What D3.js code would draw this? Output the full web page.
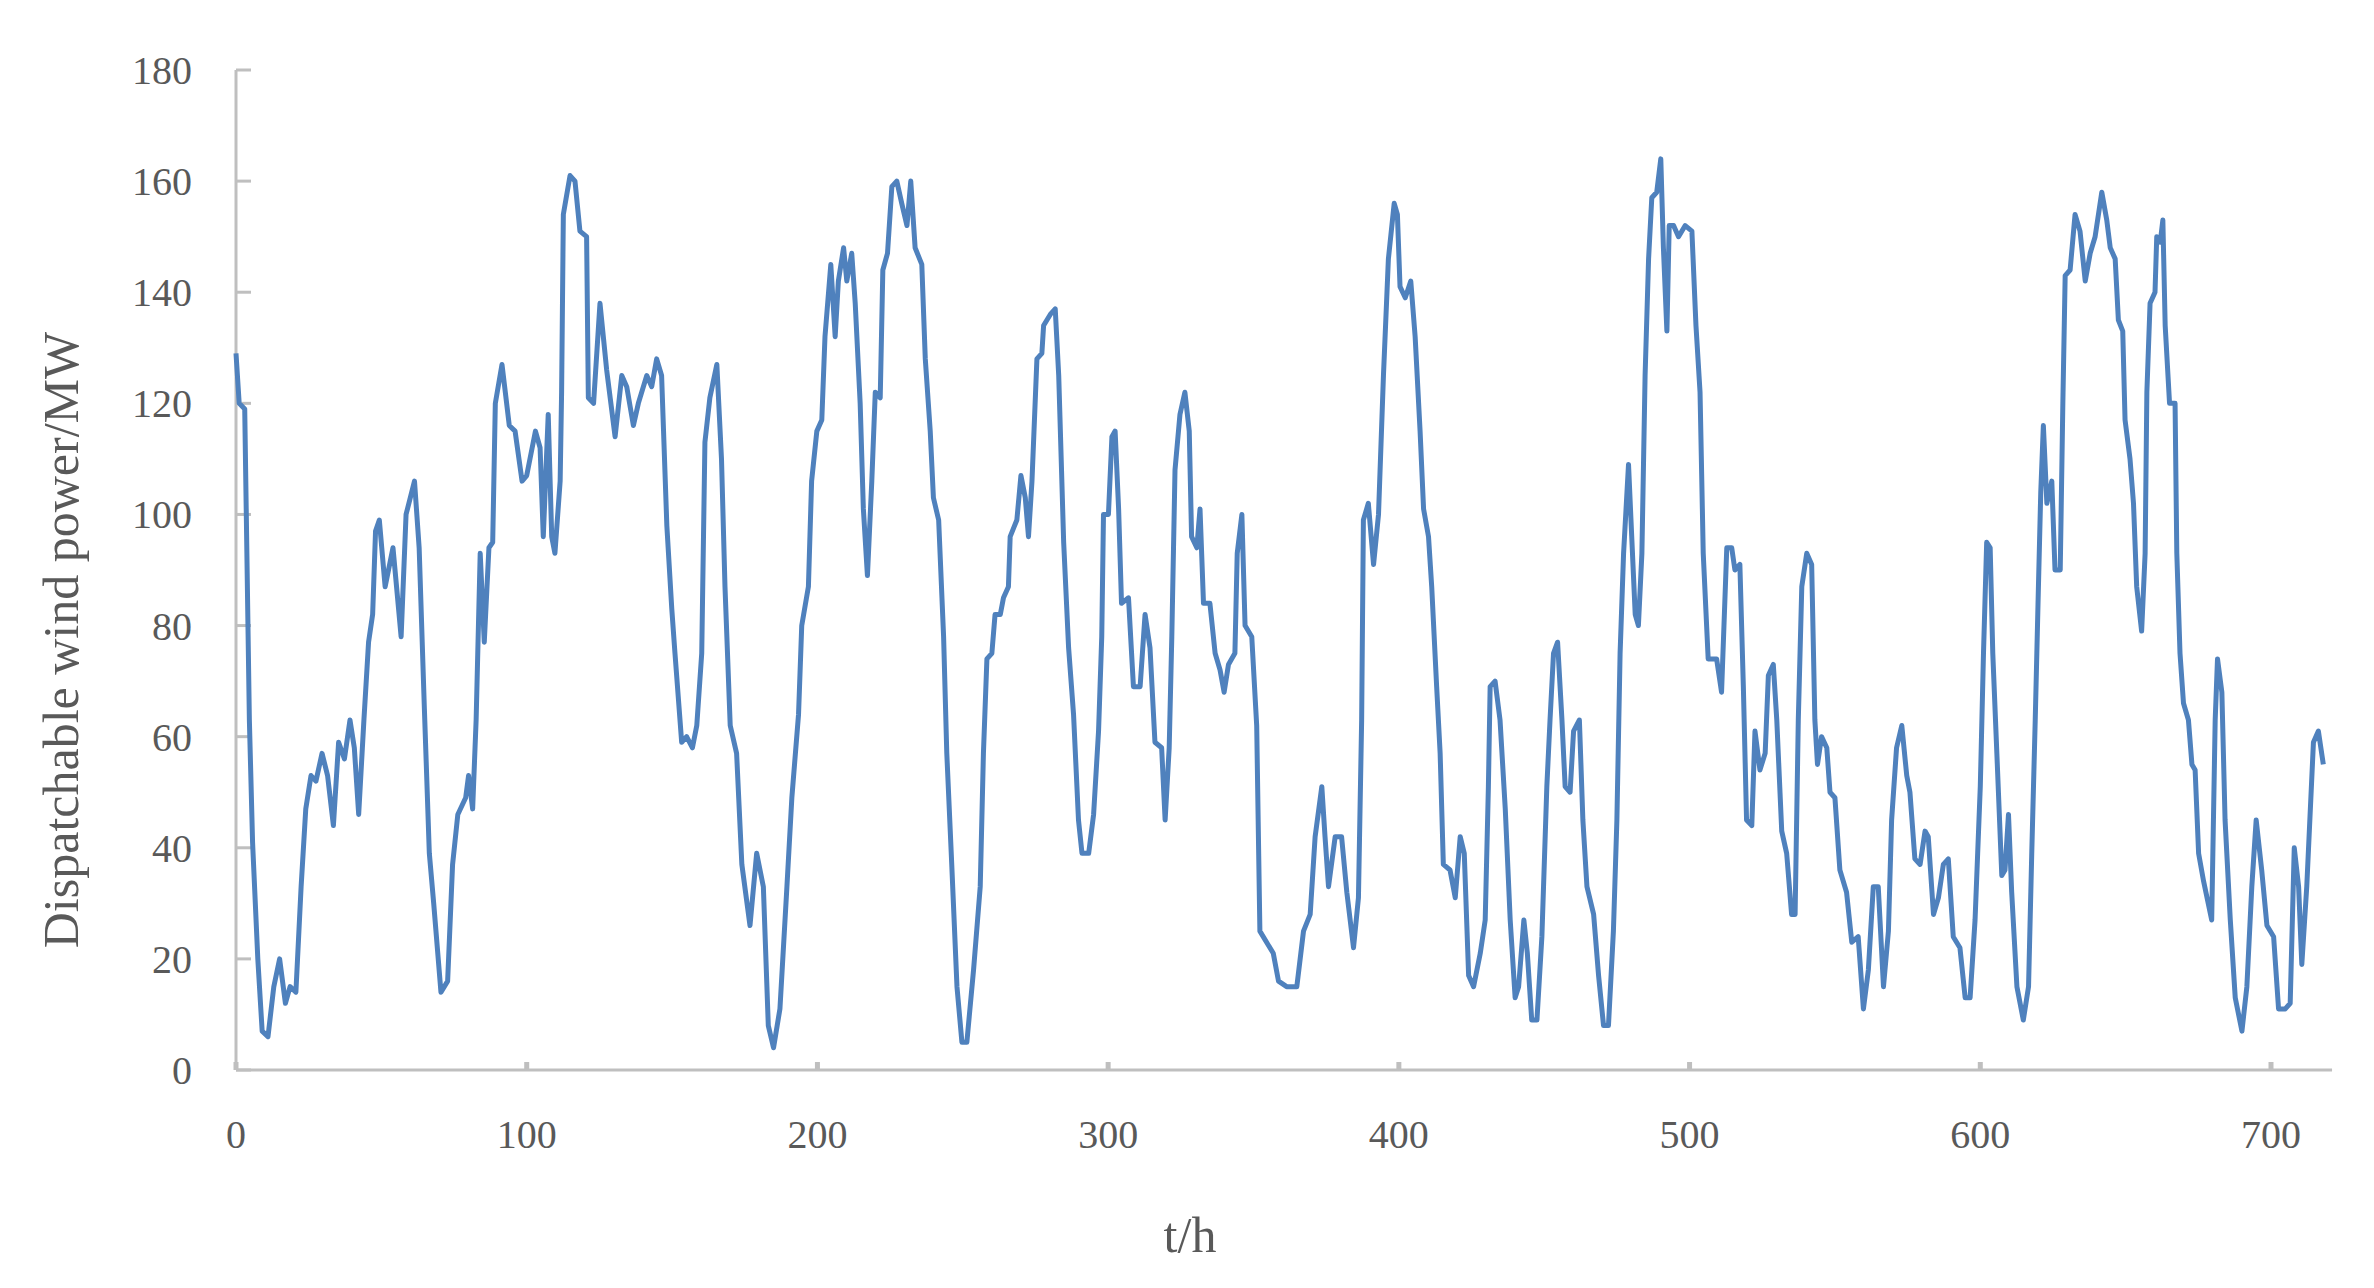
<!DOCTYPE html>
<html>
<head>
<meta charset="utf-8">
<script src="https://cdn.jsdelivr.net/npm/d3@7"></script>
<style>
  body { margin: 0; background: #fff; }
  text { font-family: "Liberation Serif", "Times New Roman", serif; fill: #595959; }
</style>
</head>
<body>
<svg id="chart" width="2374" height="1288"></svg>
<script>
// hours and dispatchable wind power (MW)
var hours = [0,1.1,3,4.6,5.7,7.5,9,11,13,15,17,18.6,20.6,22.4,24,25.8,27.5,29.6,31.5,33.5,35.3,37.3,39.2,40.7,42.2,44,45.6,47,48,49.3,51.3,54,56.8,58.5,61.4,63,64.8,66.5,68,70.5,72.8,74.5,76.3,79,80,81.4,82.6,84,85.4,87,88.3,89.2,91.5,94,96,98.4,100,103,
  104.6,105.7,107.4,108.6,109.7,111.5,112,112.6,114.9,116.6,118.3,120.6,121.2,123,125.2,127.5,130.4,132.7,134.4,136.7,138.4,141.3,143,144.7,146.4,148.2,149.9,151,153.3,155,157,158.5,160.2,161.3,163,165.4,167,168.2,170,172.2,174,176.8,179.1,181.4,183.1,184.9,187.1,189.4,191.2,193.5,194.6,196.9,198,199.8,201.5,202.6,
  204.6,206.1,207.2,209,210.1,211.8,213,214.7,215.8,217.2,218.7,219.9,221.6,222.5,224.1,225.6,227.3,229,230.8,232.1,233.6,235.9,237.1,238.8,239.9,241.7,243.4,244.5,246.2,248,249.7,251.4,253.7,256,257.1,258.3,260,261.1,262.9,264,265.7,266.3,268.6,270,271.5,272.6,273.8,275.5,277.2,277.8,280.1,281.8,283,284.7,286.4,288.1,289.8,291,293.3,295,296.7,297.8,298.4,300.1,301.3,302.4,303.6,304.6,307,
  308.7,311,312.7,314.4,316.1,318.4,319.6,321,321.9,323,324.7,326.4,327.9,328.7,330.5,331.6,332.8,335,336.8,338.5,339.9,341.4,343.6,344.4,346,347.1,349.4,351.1,352.2,354.5,356.8,358.6,361.4,364.9,367.2,369.5,371.2,373.5,374.6,375.8,378.1,380.3,382.1,384.4,386.1,387.2,387.8,389.5,391.3,393,394.7,396.4,398.4,399.5,400.4,402.2,404.1,405.6,
  407.3,408.5,410.2,411.3,413,414.2,415.3,417.6,419.4,421.1,422.5,424,425.7,428,429.7,430.8,431.4,433.1,434.8,436.6,438.3,440,441.2,443,444.2,445.7,447.5,449.2,450.9,452,453.2,454.6,456.1,457.2,458.9,460.1,462.1,463.3,464.7,467,468.7,470.4,472.1,473.8,475,476.1,477.3,479,480.1,481.3,482.4,483.6,484.7,485.9,487,488.7,490.1,491,492.2,493,494.5,496.2,498.5,500.8,502.2,503.6,504.7,506.4,
  509.3,511,512.8,514.5,515.6,517.3,518.5,519.6,521.4,522.5,524.2,526,527.1,528.8,530,531.7,533.4,535.1,536.3,537.4,538.6,540.3,542,543.1,544,545.4,547.2,548.3,550,551.7,554,555.8,558,559.8,561.5,563.2,564.9,566.7,568.4,569.5,571.2,573,574.7,575.8,577.5,579.3,581,582.1,583.9,585.6,587.3,589,590.7,593,594.8,596.5,598.2,600,601.1,602.2,603.4,604.3,605.7,607.4,608.5,609.7,610.8,612.6,614.8,616.6,617.7,618.9,620,620.8,621.7,622.9,624.6,625.7,627.5,628.4,629.2,630.9,632.6,634.3,636.1,637.8,639.5,641.8,643.5,644.7,646.4,647.5,649,649.8,651.5,652.7,653.8,655.5,656.7,657.3,658.4,660.1,660.7,661.9,662.8,663.6,665.1,667,667.6,668.7,669.9,671.6,672.8,673.9,675.1,676.8,679.6,680.8,681.6,683.1,684.2,686,687.7,690,691.7,693.4,694.9,696.8,698.6,700.9,702.6,704.9,706.6,708,709.5,710.6,712.3,714.6,716.3,718];
var power = [129,120,119,63,41,20,7,6,15,20,12,15,14,33,47,53,52,57,53,44,59,56,63,58,46,63,77,82,97,99,87,94,78,100,106,94,65,39,30,14,16,37,46,49,53,47,63,93,77,94,95,120,127,116,115,106,107,115,
  112,96,118,96,93,106,122,154,161,160,151,150,121,120,138,126,114,125,123,116,120,125,123,128,125,98,83,75,59,60,58,62,75,113,121,127,110,87,62,57,37,26,39,33,8,4,11,32,49,64,80,87,106,115,117,132,
  145,132,142,148,142,147,138,120,101,89,106,122,121,144,147,159,160,156,152,160,148,145,128,115,103,99,78,57,37,15,5,5,18,33,57,74,75,82,82,85,87,96,99,107,103,96,106,128,129,134,136,137,125,95,76,64,45,39,39,46,61,78,100,100,114,115,101,84,85,
  69,69,82,76,59,58,45,58,78,108,118,122,115,96,94,101,84,84,75,72,68,73,75,93,100,80,78,62,25,23,21,16,15,15,25,28,42,51,42,33,42,42,32,22,31,63,99,102,91,100,125,146,156,154,141,139,142,132,
  115,101,96,87,69,57,37,36,31,42,39,17,15,21,27,51,69,70,63,47,27,13,15,27,21,9,9,24,51,63,75,77,63,51,50,61,63,45,33,28,17,8,8,25,45,75,93,109,96,82,80,93,125,146,157,158,164,148,133,152,152,150,152,151,134,122,93,74,
  74,68,94,94,90,91,69,45,44,61,54,57,71,73,63,43,39,28,28,63,87,93,91,63,55,60,58,50,49,36,32,23,24,11,18,33,33,15,25,45,58,62,53,50,38,37,43,42,28,31,37,38,24,22,13,13,27,51,75,95,94,75,57,35,36,46,32,15,9,15,39,63,87,104,116,102,106,90,90,120,143,144,154,151,142,147,150,158,153,148,146,135,133,117,110,102,87,79,93,122,138,140,150,149,153,134,120,120,93,75,66,63,55,54,39,34,27,63,74,68,45,27,13,7,15,33,45,36,26,24,11,11,12,40,33,19,33,59,61,55];
var xTicks = [0,100,200,300,400,500,600,700];
var yTicks = [0,20,40,60,80,100,120,140,160,180];

var svg = d3.select("#chart");
var x = d3.scaleLinear().domain([0, 700]).range([236, 2271]);
var y = d3.scaleLinear().domain([0, 180]).range([1070, 70]);
var xEnd = x(721);

// axes lines + inward ticks, grey like Excel
var grey = "#bfbfbf";
svg.append("line").attr("x1", x(0)).attr("x2", xEnd).attr("y1", y(0)).attr("y2", y(0))
  .attr("stroke", grey).attr("stroke-width", 3);
svg.append("line").attr("x1", x(0)).attr("x2", x(0)).attr("y1", y(0)).attr("y2", y(180))
  .attr("stroke", grey).attr("stroke-width", 3);

svg.selectAll(".yt").data(yTicks).enter().append("line")
  .attr("x1", x(0)).attr("x2", x(0) + 15)
  .attr("y1", d => y(d)).attr("y2", d => y(d))
  .attr("stroke", grey).attr("stroke-width", 3);
svg.selectAll(".xt").data(xTicks).enter().append("line")
  .attr("x1", d => x(d)).attr("x2", d => x(d))
  .attr("y1", y(0)).attr("y2", y(0) - 8)
  .attr("stroke", grey).attr("stroke-width", 5);

svg.selectAll(".yl").data(yTicks).enter().append("text")
  .attr("x", 192).attr("y", d => y(d)).attr("dy", "0.35em")
  .attr("text-anchor", "end").attr("font-size", 40).text(d => d);
svg.selectAll(".xl").data(xTicks).enter().append("text")
  .attr("x", d => x(d)).attr("y", 1148)
  .attr("text-anchor", "middle").attr("font-size", 40).text(d => d);

svg.append("text").attr("transform", "translate(78,640) rotate(-90)")
  .attr("text-anchor", "middle").attr("font-size", 50).text("Dispatchable wind power/MW");
svg.append("text").attr("x", 1190).attr("y", 1252)
  .attr("text-anchor", "middle").attr("font-size", 50).text("t/h");

var line = d3.line().x((d, i) => x(hours[i])).y(d => y(d));
svg.append("path").datum(power).attr("d", line)
  .attr("fill", "none").attr("stroke", "#4f81bd").attr("stroke-width", 5)
  .attr("stroke-linejoin", "round");
</script>
</body>
</html>
